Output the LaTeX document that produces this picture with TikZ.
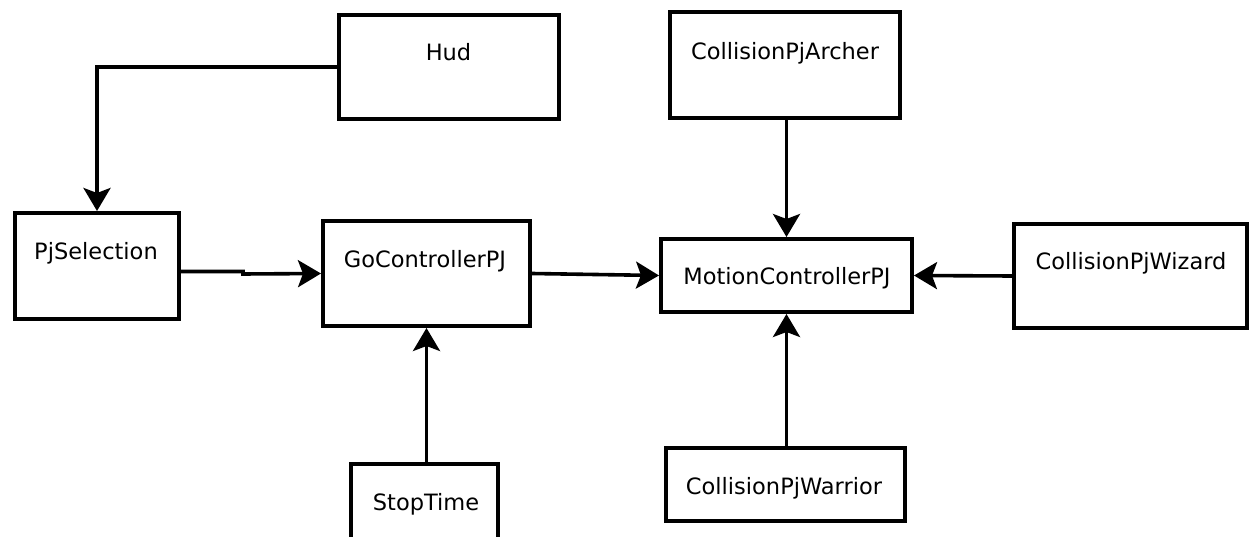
\documentclass[tikz,border=0pt]{standalone}
\usepackage{fontspec}
\setmainfont{DejaVu Sans}
\usetikzlibrary{arrows.meta,calc}
\begin{document}
\begin{tikzpicture}[x=1pt,y=-1pt,
  box/.style={draw=black,line width=4pt,inner sep=0pt},
  tag/.style={font=\fontsize{22.5}{26}\selectfont,inner sep=0pt,anchor=base,text=black},
  flow/.style={line width=3.6pt,line join=miter,-{Stealth[length=23pt,width=27pt,inset=5pt]}}]
\useasboundingbox (0,0) rectangle (1250,537);
\clip (0,0) rectangle (1250,537);
\fill[white] (0,0) rectangle (1250,537);

% boxes
\node[box,minimum width=220pt,minimum height=104pt] (hud)  at (449,67)     {};
\node[box,minimum width=230pt,minimum height=106pt] (arch) at (785,65)     {};
\node[box,minimum width=164pt,minimum height=106pt] (psel) at (97,266)     {};
\node[box,minimum width=207pt,minimum height=105pt] (goc)  at (426.5,273.5){};
\node[box,minimum width=251pt,minimum height=73pt]  (mot)  at (786.5,275.5){};
\node[box,minimum width=233pt,minimum height=104pt] (wiz)  at (1130.5,276) {};
\node[box,minimum width=147pt,minimum height=104pt] (stop) at (424.5,516)  {};
\node[box,minimum width=239pt,minimum height=73pt]  (war)  at (785.5,484.5){};

% box titles
\node[tag] (hudt)  at (448.5,61) {Hud};
\node[tag] (archt) at (785,60)   {CollisionPjArcher};
\node[tag] (pselt) at (96,260)   {PjSelection};
\node[tag] (goct)  at (425,268)  {GoControllerPJ};
\node[tag] (mott)  at (787,285)  {MotionControllerPJ};
\node[tag] (wizt)  at (1131,270) {CollisionPjWizard};
\node[tag] (stopt) at (426,510)  {StopTime};
\node[tag] (wart)  at (784,494)  {CollisionPjWarrior};

% connectors
\coordinate (jog) at (243,274);
\draw[flow] (hud.west) -| (psel.north);
\draw[flow] ([yshift=-5.5pt]psel.east) -- ([yshift=-5.5pt]psel.east -| jog) -- (jog) -- (goc.west);
\draw[flow] (goc.east) -- (mot.west);
\draw[flow] (mot.north |- arch.south) -- (mot.north);
\draw[flow] (wiz.west) -- (mot.east);
\draw[flow] (goc.south |- stop.north) -- (goc.south);
\draw[flow] (mot.south |- war.north) -- (mot.south);
\end{tikzpicture}
\end{document}
